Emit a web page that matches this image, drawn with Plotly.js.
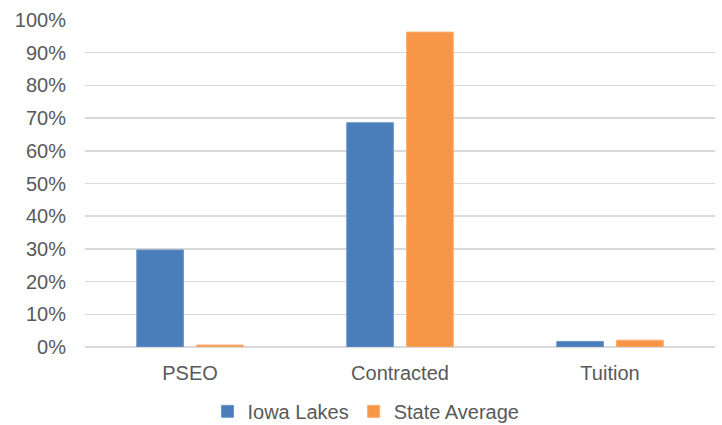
<!DOCTYPE html>
<html>
<head>
<meta charset="utf-8">
<script src="https://cdn.plot.ly/plotly-3.0.1.min.js"></script>
<style>html,body{margin:0;padding:0;background:#fff;}#chart{width:722px;height:425px;}</style>
</head>
<body>
<div id="chart"></div>
<script>
var categories = ["PSEO", "Contracted", "Tuition"];
var iowaLakes = [0.297, 0.686, 0.017];
var stateAverage = [0.006, 0.963, 0.021];
var seriesNames = ["Iowa Lakes", "State Average"];
var yTickVals = [0, 0.1, 0.2, 0.3, 0.4, 0.5, 0.6, 0.7, 0.8, 0.9, 1.0];
var yTickText = ["0%", "10%", "20%", "30%", "40%", "50%", "60%", "70%", "80%", "90%", "100%"];

var font = {family: "Liberation Sans, Arial, sans-serif", size: 20, color: "#595959"};

var traces = [
  {type: "bar", name: seriesNames[0], x: categories, y: iowaLakes,
   marker: {color: "#4A7EBB", line: {color: "#6F98CC", width: 1}}, hoverinfo: "y"},
  {type: "bar", name: seriesNames[1], x: categories, y: stateAverage,
   marker: {color: "#F79646", line: {color: "#F9AE74", width: 1}}, hoverinfo: "y"}
];

var layout = {
  width: 722, height: 425,
  margin: {l: 85, r: 7, t: 20, b: 78},
  paper_bgcolor: "#fff", plot_bgcolor: "#fff",
  font: font,
  barmode: "group",
  bargap: 0.43,
  bargroupgap: 0.22,
  showlegend: true,
  legend: {orientation: "h", x: 0.446, xanchor: "center", yref: "container", y: 0.078, yanchor: "top",
           font: font, itemwidth: 30, traceorder: "normal"},
  xaxis: {type: "category", showgrid: false, zeroline: false, showline: false,
          ticks: "", tickfont: font, ticklabelstandoff: 12, automargin: false},
  yaxis: {range: [0, 1.0], tickvals: yTickVals, ticktext: yTickText,
          showgrid: true, gridcolor: "#D9D9D9", gridwidth: 1.5,
          zeroline: true, zerolinecolor: "#D9D9D9", zerolinewidth: 1.5,
          showline: false, ticks: "", tickfont: font, ticklabelstandoff: 18, automargin: false}
};

Plotly.newPlot("chart", traces, layout, {displayModeBar: false, staticPlot: true});
</script>
</body>
</html>
